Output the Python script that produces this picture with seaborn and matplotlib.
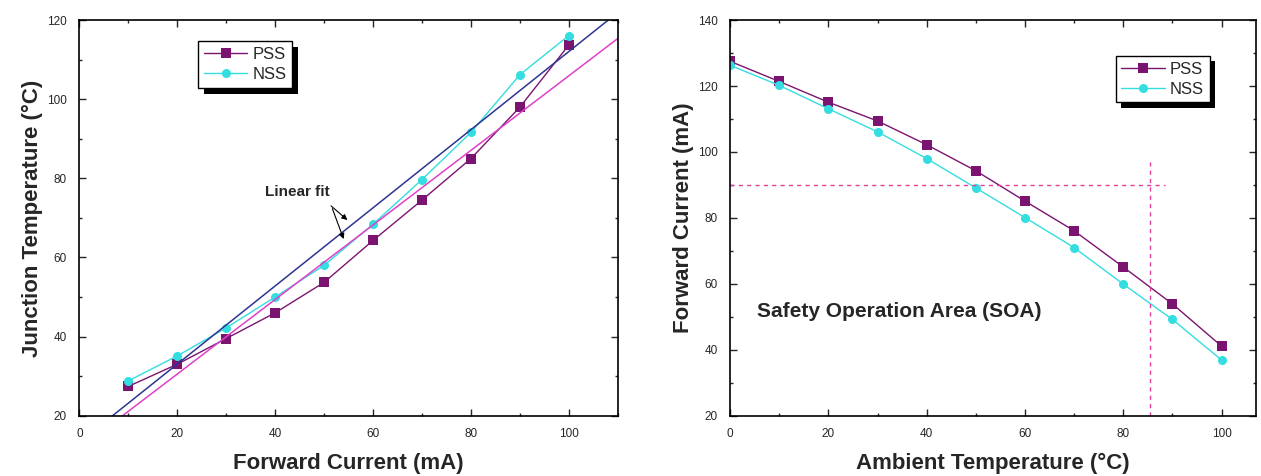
import numpy as np
import pandas as pd
import matplotlib
matplotlib.use("Agg")
import matplotlib.pyplot as plt
from matplotlib.ticker import MultipleLocator
import matplotlib.patheffects as pe
import seaborn as sns

# ---- data: left panel (junction temperature vs forward current) ----
current_ma = [10, 20, 30, 40, 50, 60, 70, 80, 90, 100]
tj_pss = [27.4, 33.0, 39.5, 46.0, 53.7, 64.3, 74.5, 85.0, 98.0, 113.7]
tj_nss = [28.8, 35.1, 42.2, 50.0, 58.0, 68.4, 79.7, 91.6, 106.2, 116.1]

# ---- data: right panel (derating curve) ----
ambient_c = [0, 10, 20, 30, 40, 50, 60, 70, 80, 90, 100]
if_pss = [127.5, 121.4, 115.1, 109.4, 102.2, 94.3, 85.1, 76.1, 65.1, 53.9, 41.1]
if_nss = [126.3, 120.2, 113.1, 106.1, 98.0, 89.1, 80.1, 71.0, 59.9, 49.2, 36.9]
soa_current = 90
soa_temp = 85.5

C_PSS = "#7b1470"
C_NSS = "#33dde0"
C_FIT_PSS = "#e040c8"
C_FIT_NSS = "#2e3590"
C_SOA = "#e0409a"

sns.set_style("ticks")
plt.rcParams["font.family"] = ["Liberation Sans", "DejaVu Sans"]

fig = plt.figure(figsize=(12.61, 4.76), dpi=100)
ax1 = fig.add_axes([0.0629, 0.1267, 0.427, 0.831])
ax2 = fig.add_axes([0.579, 0.1267, 0.417, 0.831])

MS = 6.5

# ---------------- left panel ----------------
df1 = pd.DataFrame({"x": current_ma, "pss": tj_pss, "nss": tj_nss})
sns.lineplot(data=df1, x="x", y="pss", ax=ax1, color=C_PSS, marker="s",
             markersize=MS, markeredgewidth=0, linewidth=1.0, label="PSS")
sns.lineplot(data=df1, x="x", y="nss", ax=ax1, color=C_NSS, marker="o",
             markersize=MS, markeredgewidth=0, linewidth=1.0, label="NSS")

xfit = np.array([0, 110])
p_pss = np.polyfit(current_ma, tj_pss, 1)
p_nss = np.polyfit(current_ma, tj_nss, 1)
sns.lineplot(x=xfit, y=np.polyval(p_pss, xfit), ax=ax1, color=C_FIT_PSS,
             linewidth=1.1, label="_nolegend_")
sns.lineplot(x=xfit, y=np.polyval(p_nss, xfit), ax=ax1, color=C_FIT_NSS,
             linewidth=1.1, label="_nolegend_")

ax1.set_xlim(0, 110)
ax1.set_ylim(20, 120)
ax1.set_xlabel("Forward Current (mA)", fontsize=16, fontweight="bold")
ax1.set_ylabel("Junction Temperature (°C)", fontsize=16, fontweight="bold")

ax1.text(44.5, 76.6, "Linear fit", fontsize=11, fontweight="bold",
         ha="center", va="center")
ax1.annotate("", xy=(55.2, 69.0), xytext=(51.0, 73.5),
             arrowprops=dict(arrowstyle="-|>", color="black", lw=0.8,
                             mutation_scale=8))
ax1.annotate("", xy=(54.2, 64.0), xytext=(51.5, 73.0),
             arrowprops=dict(arrowstyle="-|>", color="black", lw=0.8,
                             mutation_scale=8))

# ---------------- right panel ----------------
df2 = pd.DataFrame({"x": ambient_c, "pss": if_pss, "nss": if_nss})
sns.lineplot(data=df2, x="x", y="pss", ax=ax2, color=C_PSS, marker="s",
             markersize=MS, markeredgewidth=0, linewidth=1.0, label="PSS")
sns.lineplot(data=df2, x="x", y="nss", ax=ax2, color=C_NSS, marker="o",
             markersize=MS, markeredgewidth=0, linewidth=1.0, label="NSS")

ax2.plot([0, 88.5], [soa_current, soa_current], color=C_SOA, lw=1.0,
         linestyle=(0, (3, 3)))
ax2.plot([soa_temp, soa_temp], [20, 97], color=C_SOA, lw=1.0,
         linestyle=(0, (3, 3)))
ax2.text(5.4, 51.7, "Safety Operation Area (SOA)", fontsize=15,
         fontweight="bold", ha="left", va="center")

ax2.set_xlim(0, 107)
ax2.set_ylim(20, 140)
ax2.set_xlabel("Ambient Temperature (°C)", fontsize=16, fontweight="bold")
ax2.set_ylabel("Forward Current (mA)", fontsize=16, fontweight="bold")

for ax in (ax1, ax2):
    ax.xaxis.set_major_locator(MultipleLocator(20))
    ax.xaxis.set_minor_locator(MultipleLocator(10))
    ax.yaxis.set_major_locator(MultipleLocator(20))
    ax.yaxis.set_minor_locator(MultipleLocator(10))
    ax.tick_params(which="both", direction="in", top=True, right=True,
                   labelsize=8.5, width=1.0)
    ax.tick_params(which="major", length=5)
    ax.tick_params(which="minor", length=2.5)
    ax.tick_params(axis="x", which="major", pad=9)
    ax.tick_params(axis="y", which="major", pad=9)
    for s in ax.spines.values():
        s.set_visible(True)
        s.set_linewidth(1.2)
        s.set_color("black")
    ax.xaxis.labelpad = 9
    ax.yaxis.labelpad = 3

leg_kw = dict(frameon=True, fancybox=False, edgecolor="black", fontsize=12,
              handlelength=2.6, borderpad=0.35, labelspacing=0.3,
              handletextpad=0.3, borderaxespad=0.0, shadow=False)
leg1 = ax1.legend(loc="upper left", bbox_to_anchor=(0.221, 0.946), **leg_kw)
leg2 = ax2.legend(loc="upper left", bbox_to_anchor=(0.733, 0.91), **leg_kw)
for leg in (leg1, leg2):
    fr = leg.get_frame()
    fr.set_linewidth(1.0)
    fr.set_alpha(1.0)
    fr.set_path_effects([
        pe.SimplePatchShadow(offset=(4, -4), shadow_rgbFace="black", alpha=1.0),
        pe.Normal(),
    ])

fig.savefig("out.png", dpi=100, facecolor="white")
